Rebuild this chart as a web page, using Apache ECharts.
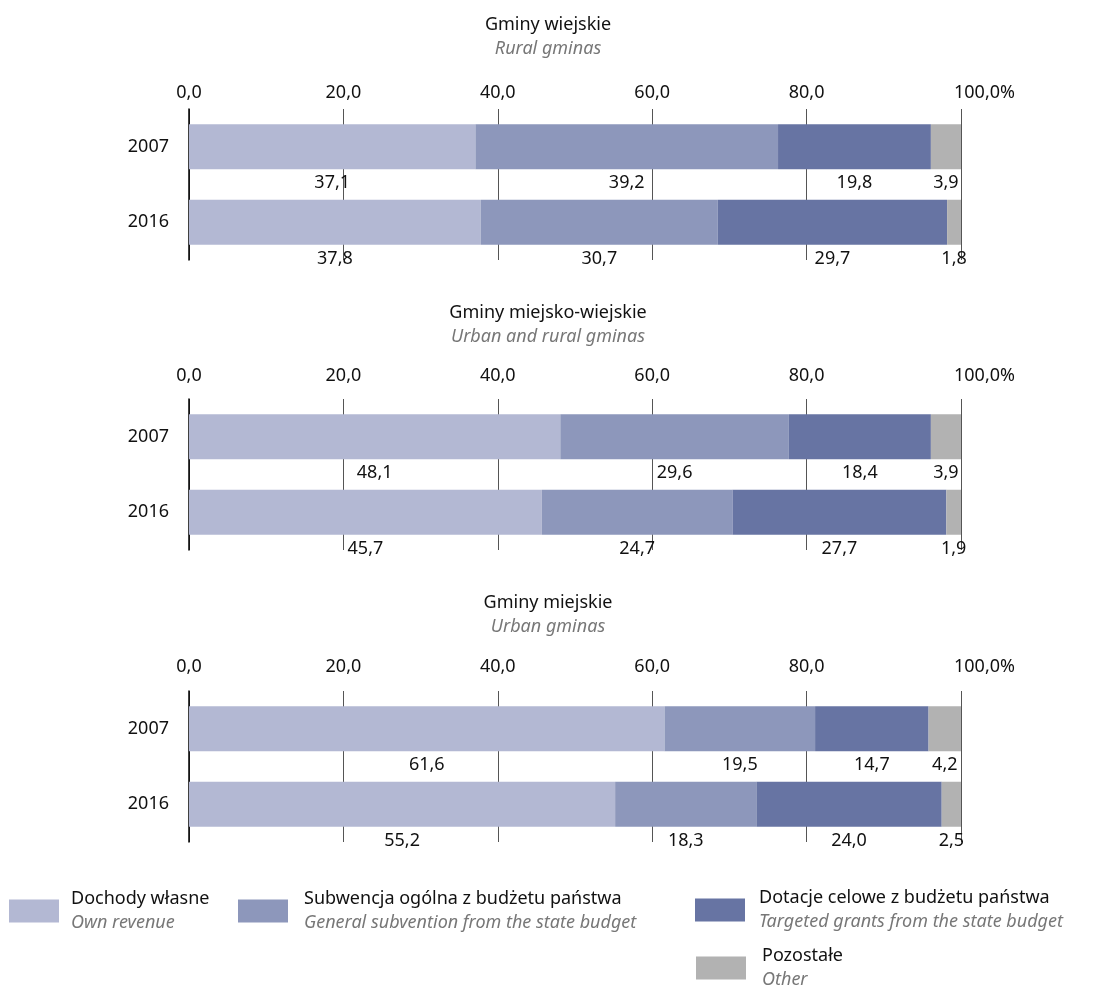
<!DOCTYPE html>
<html>
<head>
<meta charset="utf-8">
<script src="https://cdn.jsdelivr.net/npm/echarts@6/dist/echarts.min.js"></script>
<style>
  html, body { margin: 0; padding: 0; background: #fff; }
  #chart { width: 1096px; height: 987px; }
</style>
</head>
<body>
<div id="chart"></div>
<script>
const years = ['2007', '2016'];

const seriesNames = [
  'Dochody własne',
  'Subwencja ogólna z budżetu państwa',
  'Dotacje celowe z budżetu państwa',
  'Pozostałe'
];
const seriesNamesEn = [
  'Own revenue',
  'General subvention from the state budget',
  'Targeted grants from the state budget',
  'Other'
];
const colors = ['#b3b8d3', '#8d97bb', '#6774a3', '#b2b2b2'];

const panelTitles = ['Gminy wiejskie', 'Gminy miejsko-wiejskie', 'Gminy miejskie'];
const panelTitlesEn = ['Rural gminas', 'Urban and rural gminas', 'Urban gminas'];

// rural gminas
const ruralOwn = [37.1, 37.8];
const ruralSubv = [39.2, 30.7];
const ruralGrants = [19.8, 29.7];
const ruralOther = [3.9, 1.8];
// urban-rural gminas
const mixedOwn = [48.1, 45.7];
const mixedSubv = [29.6, 24.7];
const mixedGrants = [18.4, 27.7];
const mixedOther = [3.9, 1.9];
// urban gminas
const urbanOwn = [61.6, 55.2];
const urbanSubv = [19.5, 18.3];
const urbanGrants = [14.7, 24.0];
const urbanOther = [4.2, 2.5];

const panels = [
  [ruralOwn, ruralSubv, ruralGrants, ruralOther],
  [mixedOwn, mixedSubv, mixedGrants, mixedOther],
  [urbanOwn, urbanSubv, urbanGrants, urbanOther]
];

const FONT = 'Noto Sans';
const FS = 18;
const gridTops = [109, 399, 691];
const tickMargins = [7, 14, 15];
const titleTops = [11, 299, 589];

const fmt = v => v.toFixed(1).replace('.', ',');

const chart = echarts.init(document.getElementById('chart'));

const grid = gridTops.map(t => ({ left: 189, right: 135, top: t, height: 151 }));

const xAxis = gridTops.map((t, i) => ({
  type: 'value',
  gridIndex: i,
  position: 'top',
  min: 0,
  max: 100,
  interval: 20,
  axisLine: { show: false },
  axisTick: { show: false },
  splitLine: { show: true, lineStyle: { color: '#555', width: 1 } },
  axisLabel: {
    margin: tickMargins[i],
    fontFamily: FONT,
    fontSize: FS,
    color: '#111',
    formatter: v => v === 100 ? '{p|' + fmt(v) + '%}' : fmt(v),
    rich: { p: { fontFamily: FONT, fontSize: FS, color: '#111', padding: [0, 0, 0, 47] } }
  }
}));

const yAxis = gridTops.map((t, i) => ({
  type: 'category',
  gridIndex: i,
  data: years,
  inverse: true,
  axisLine: { show: true, lineStyle: { color: '#000', width: 1.5 } },
  axisTick: { show: false },
  axisLabel: { margin: 20, fontFamily: FONT, fontSize: FS, color: '#111' }
}));

const series = [];
panels.forEach((panel, i) => {
  panel.forEach((vals, j) => {
    series.push({
      type: 'bar',
      name: seriesNames[j],
      xAxisIndex: i,
      yAxisIndex: i,
      stack: 'p' + i,
      data: vals,
      barWidth: 45,
      itemStyle: { color: colors[j] },
      label: {
        show: true,
        position: 'bottom',
        distance: 5,
        fontFamily: FONT,
        fontSize: FS,
        color: '#111',
        formatter: p => fmt(p.value)
      }
    });
  });
});

const title = panelTitles.map((t, i) => ({
  text: t,
  subtext: panelTitlesEn[i],
  left: 'center',
  top: titleTops[i],
  itemGap: 6,
  padding: [5, 5, 5, 19],
  textStyle: { fontFamily: FONT, fontSize: FS, fontWeight: 'normal', color: '#111' },
  subtextStyle: { fontFamily: FONT, fontSize: FS, fontStyle: 'italic', color: '#777' }
}));

const legendPos = [[9, 899], [238, 899], [695, 898], [696, 956]];
const legendTextGap = [7, 11, 9, 11];
const legend = seriesNames.map((n, j) => ({
  data: [n],
  left: legendPos[j][0] - 5,
  top: legendPos[j][1] - 14,
  icon: 'rect',
  itemWidth: 50,
  itemHeight: 23,
  selectedMode: false,
  formatter: name => '{a|' + name + '}\n{b|' + seriesNamesEn[j] + '}',
  textStyle: {
    padding: [0, 0, 0, legendTextGap[j]],
    rich: {
      a: { fontFamily: FONT, fontSize: FS, color: '#111', lineHeight: 24 },
      b: { fontFamily: FONT, fontSize: FS, fontStyle: 'italic', color: '#777', lineHeight: 24 }
    }
  }
}));

chart.setOption({
  animation: false,
  title: title,
  legend: legend,
  grid: grid,
  xAxis: xAxis,
  yAxis: yAxis,
  series: series
});
</script>
</body>
</html>
